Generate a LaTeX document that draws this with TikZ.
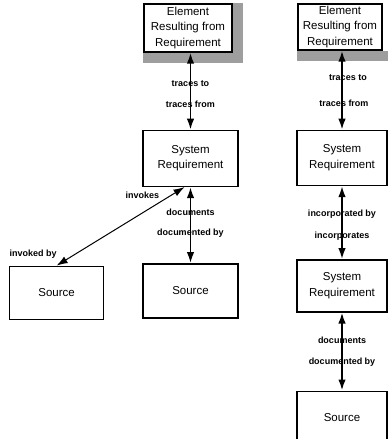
\documentclass[tikz,border=0pt]{standalone}
\usepackage{fontspec}
\setmainfont{Liberation Sans}
\usetikzlibrary{positioning}
\usetikzlibrary{arrows.meta}
\usetikzlibrary{backgrounds}
\tikzstyle{box} = [rectangle, draw, line width=1.4pt, fill=white, align=center,
                   font=\fontsize{11.5}{15.5}\selectfont, inner sep=2pt]
\tikzstyle{elem}=[box, minimum width=88pt, minimum height=48pt]
\tikzstyle{req}=[box, minimum width=92pt, minimum height=55pt]
\tikzstyle{src}=[box, minimum width=92pt, minimum height=53pt]
\tikzstyle{link}=[{Latex[length=11pt,width=7.5pt]}-{Latex[length=11pt,width=7.5pt]},
                  line width=1.8pt]
\tikzstyle{lbl}=[font=\bfseries\fontsize{9}{10}\selectfont, inner sep=0pt]
\tikzstyle{shadowfill}=[fill=black!38]

\begin{document}
\begin{tikzpicture}[x=1pt, y=1pt]
  \useasboundingbox (0,0) rectangle (388,-439);

  % left column
  \node [elem] (elemA) at (188,-28) {Element\\Resulting from\\Requirement};
  \node [req, below=77pt of elemA, xshift=2.5pt, minimum width=95pt, minimum height=56pt]
    (sysA) {System\\Requirement};
  \node [src, below=76pt of sysA, minimum width=95pt, minimum height=54pt] (srcB) {Source};
  \node [src, left=38pt of srcB, yshift=-2pt, minimum width=94pt] (srcA) {Source};

  % right column
  \node [elem, minimum width=84pt, minimum height=46pt] (elemB) at (340,-27)
    {Element\\Resulting from\\Requirement};
  \node [req, below=79pt of elemB, xshift=2pt, minimum width=90pt] (sysB) {System\\Requirement};
  \node [req, below=73pt of sysB, minimum width=90pt, minimum height=52pt]
    (sysC) {System\\Requirement};
  \node [src, below=78pt of sysC, minimum width=90pt, minimum height=52pt] (srcC) {Source};

  \begin{scope}[on background layer]
    \fill [shadowfill] (elemA.north west) rectangle ([shift={(10pt,-10pt)}]elemA.south east);
    \fill [shadowfill] (elemB.south west) rectangle ([shift={(6pt,-10pt)}]elemB.south east);
  \end{scope}

  \draw [link] (sysA.north |- elemA.south) -- (sysA.north)
    node [lbl, pos=.4] {traces to} node [lbl, pos=.675] {traces from};
  \draw [link] (sysA.south) -- (sysA.south |- srcB.north)
    node [lbl, pos=.33] {documents} node [lbl, pos=.6] {documented by};
  \draw [link, line width=1pt] ([xshift=-6pt]sysA.south) -- (srcA.north)
    node [lbl, pos=.1, left=12pt] {invokes} node [lbl, pos=.855, left=18pt] {invoked by};

  \draw [link] (sysB.north |- elemB.south) -- (sysB.north)
    node [lbl, pos=.34, xshift=6pt] {traces to} node [lbl, pos=.66, xshift=2pt] {traces from};
  \draw [link] (sysB.south) -- (sysC.north)
    node [lbl, pos=.38] {incorporated by} node [lbl, pos=.68] {incorporates};
  \draw [link] (sysC.south) -- (srcC.north)
    node [lbl, pos=.36] {documents} node [lbl, pos=.64] {documented by};
\end{tikzpicture}
\end{document}
